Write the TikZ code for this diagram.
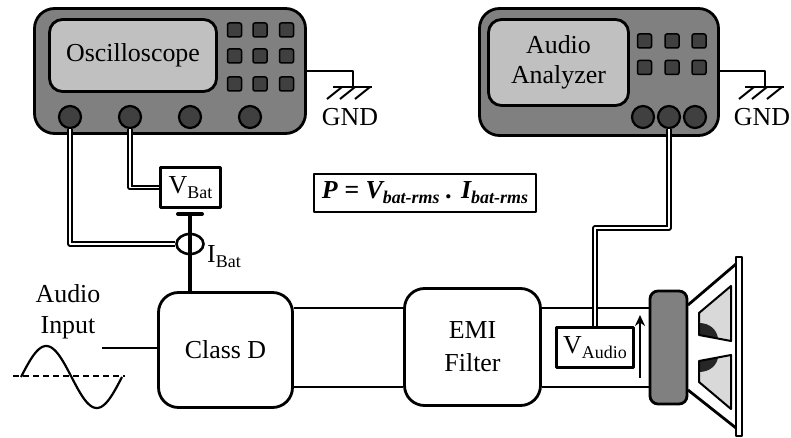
\documentclass[tikz,border=0pt]{standalone}
\usepackage{fontspec}
\setmainfont{Liberation Serif}
\usetikzlibrary{shapes.geometric,arrows.meta,calc}
\definecolor{casegray}{HTML}{808080}
\definecolor{screengray}{HTML}{C0C0C0}
\definecolor{keygray}{HTML}{404040}
\definecolor{conegray}{HTML}{D9D9D9}
\definecolor{coildark}{HTML}{262626}
% lowered, smaller subscript text
\newcommand\lowsub[1]{\raisebox{-5bp}{\fontsize{18}{18}\selectfont #1}}

\begin{document}
\begin{tikzpicture}[x=1bp,y=-1bp,line join=round,
  every node/.style={font=\fontsize{26}{31}\selectfont, inner sep=0pt},
  body/.style={draw, line width=2.8bp, fill=casegray, rounded corners=20bp},
  screen/.style={draw, line width=2.8bp, fill=screengray, rounded corners=13bp, align=center},
  key/.style={draw, line width=1.5bp, fill=keygray, rounded corners=2bp, minimum size=14bp},
  knob/.style={circle, draw, line width=2.2bp, fill=keygray, minimum size=22bp},
  block/.style={draw, line width=2.8bp, fill=white, rounded corners=20bp, align=center},
  meter/.style={draw, line width=3bp, fill=white},
  wire/.style={line width=2.5bp},
  cable/.style={line width=2.1bp, double=white, double distance=1.4bp},
  gndline/.style={line width=2bp}
]
\useasboundingbox (0,0) rectangle (791,438);

% ---------- oscilloscope ----------
\node[body, minimum width=271bp, minimum height=125bp] (scope) at (170,71) {};
\node[screen, minimum width=167bp, minimum height=72bp] (scopescr) at (133,55.5) {Oscilloscope};
\foreach \c [count=\i] in {234.5,260,286.5}
  \foreach \r [count=\j] in {30,56,84}
    \node[key] (sk\i\j) at (\c,\r) {};

% ---------- audio analyzer ----------
\node[body, minimum width=239bp, minimum height=127bp] (ana) at (599,72) {};
\node[screen, minimum width=140bp, minimum height=86bp, font=\fontsize{26}{30}\selectfont] (anascr) at (558.5,62.5) {Audio\\Analyzer};
\foreach \c [count=\i] in {644.5,672,699}
  \foreach \r [count=\j] in {41,67.5}
    \node[key] (ak\i\j) at (\c,\r) {};

% ---------- ground connections ----------
\coordinate (gs) at (353,87);
\coordinate (ga) at (765,87);
\draw[gndline] (scope.east) -| (gs);
\draw[gndline] (ana.east |- 0,71) -| (ga);
\foreach \g in {gs,ga} {
  \draw[gndline] ($(\g)+(-20,0)$) -- ($(\g)+(19,0)$);
  \foreach \dx in {-11,2,17}
    \draw[gndline] ($(\g)+(\dx,0)$) -- ($(\g)+(\dx-15,12)$);
}
\node (gndS) at ($(gs)+(-3,30)$) {GND};
\node (gndA) at ($(ga)+(-3,30)$) {GND};

% ---------- battery measurement ----------
\node[block, minimum width=134bp, minimum height=115bp] (classd) at (225.5,350) {Class D};
\node[meter, minimum width=60bp, minimum height=40bp] (vbat) at (190.5,187.5) {V\lowsub{Bat}};
\node[ellipse, draw, line width=2.6bp, minimum width=27bp, minimum height=20bp] (ibat) at (190,244) {};
\coordinate (bartop) at (190,214);
\draw[line width=4.5bp] (bartop) -- (bartop |- classd.north);
\draw[line width=4bp, line cap=round] ($(bartop)+(-12,0)$) -- ($(bartop)+(12,0)$);
\node[anchor=base west] (ibatlbl) at (207,263) {I\lowsub{Bat}};

% probe cables from the oscilloscope
\foreach \c [count=\i] in {70,130,190,250}
  \node[knob] (k\i) at (\c,117) {};
\draw[cable] (k1.south) |- (ibat.west);
\draw[cable] (k2.south) |- (vbat.west);

% power formula
\node[draw, line width=2bp, minimum width=222bp, minimum height=38bp] (pform) at (425,193)
  {\bfseries\itshape P = V\lowsub{bat-rms} . I\lowsub{bat-rms}};

% ---------- audio input ----------
\node[align=center] (ain) at (68,312) {Audio\\Input};
\coordinate (inend) at (102,348);
\draw[wire] (inend) -- (inend -| classd.west);
\draw[line width=2.2bp] plot[domain=0:360, samples=73, smooth] ({21+\x/360*101},{377-31*sin(\x)});
\draw[line width=2bp, dash pattern=on 6bp off 4bp] (13,376) -- (125,376);

% ---------- filter and output lines ----------
\node[block, minimum width=136bp, minimum height=117bp, font=\fontsize{26}{33}\selectfont] (emi) at (472.5,347) {EMI\\Filter};
\node[draw, line width=2.8bp, fill=casegray, rounded corners=8bp, minimum width=37bp, minimum height=113bp] (magnet) at (668.5,347.5) {};
\coordinate (upper) at (0,308);
\coordinate (lower) at (0,387);
\draw[wire] (classd.east |- upper) -- (emi.west |- upper);
\draw[wire] (classd.east |- lower) -- (emi.west |- lower);
\draw[wire] (emi.east |- upper) -- (magnet.west |- upper);
\draw[wire] (emi.east |- lower) -- (magnet.west |- lower);

% output voltage measurement
\node[meter, minimum width=77bp, minimum height=39bp] (vaud) at (595,347.5) {V\lowsub{Audio}};
\foreach \c [count=\i] in {643,669,695}
  \node[knob] (aknob\i) at (\c,117) {};
\coordinate (abend) at (595,228);
\draw[cable] (aknob2.south) |- (abend) -- (vaud.north);
\coordinate (arrlo) at (640,378);
\coordinate (arrhi) at (640,315);
\draw[line width=1.9bp, -{Stealth[length=11bp,width=10bp]}] (arrlo) -- (arrhi);

% ---------- loudspeaker ----------
\draw[line width=2.8bp] (688,305) -- (736,264);
\draw[line width=2.8bp] (688,390) -- (736,428);
\draw[line width=2bp, fill=white] (736,257) rectangle (742,436);
\fill[conegray] (699,313) -- (731,286) -- (731,341) -- (699,335) -- cycle;
\fill[coildark] (699,323) .. controls (710,323) and (717,330) .. (718,338.6) -- (699,335) -- cycle;
\draw[line width=2bp] (699,313) -- (731,286) -- (731,341) -- (699,335) -- cycle;
\fill[conegray] (699,361) -- (731,355) -- (731,409) -- (699,382) -- cycle;
\fill[coildark] (699,361) -- (718,357.4) .. controls (717,365) and (710,372) .. (699,372) -- cycle;
\draw[line width=2bp] (699,361) -- (731,355) -- (731,409) -- (699,382) -- cycle;
\end{tikzpicture}
\end{document}
